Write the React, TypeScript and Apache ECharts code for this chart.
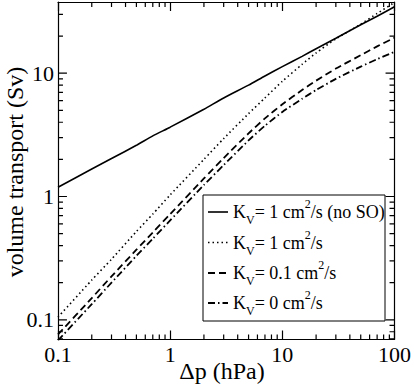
import React, { useEffect, useRef } from "react";
import * as echarts from "echarts";

// Pressure difference Δp (hPa)
const dp = [0.1, 0.2, 0.3, 0.5, 0.7, 1, 2, 3, 5, 7, 10, 15, 20, 30, 50, 70, 100];
// Volume transport (Sv)
const kv1NoSO = [1.19, 1.67, 2.03, 2.6, 3.1, 3.65, 5.1, 6.3, 8.0, 9.5, 11.3, 13.7, 15.8, 19.2, 24.7, 29.0, 34.6];
const kv1 = [0.105, 0.21, 0.31, 0.52, 0.72, 1.03, 2.0, 2.95, 4.7, 6.3, 8.6, 11.8, 14.6, 19.0, 25.0, 30.5, 37.5];
const kv01 = [0.076, 0.15, 0.225, 0.37, 0.51, 0.72, 1.4, 2.05, 3.25, 4.3, 5.6, 7.3, 8.7, 10.9, 14.0, 16.5, 19.4];
const kv0 = [0.068, 0.134, 0.2, 0.33, 0.455, 0.64, 1.24, 1.8, 2.85, 3.75, 4.85, 6.2, 7.3, 9.0, 11.3, 13.0, 14.9];

const xMajor = [0.1, 1, 10, 100];
const xMinor = [0.2, 0.3, 0.4, 0.5, 0.6, 0.7, 0.8, 0.9, 2, 3, 4, 5, 6, 7, 8, 9, 20, 30, 40, 50, 60, 70, 80, 90];
const yMajor = [0.1, 1, 10];
const yMinor = [0.07, 0.08, 0.09, 0.2, 0.3, 0.4, 0.5, 0.6, 0.7, 0.8, 0.9, 2, 3, 4, 5, 6, 7, 8, 9, 20, 30];
const xRange = [0.1, 100];
const yRange = [0.0692, 37.8];

const legendNames = ["K_V= 1 cm²/s (no SO)", "K_V= 1 cm²/s", "K_V= 0.1 cm²/s", "K_V= 0 cm²/s"];
const legendRich = [
  "{k|K}{s|V}{n|= 1 cm}{p|2}{n|/s (no SO)}",
  "{k|K}{s|V}{n|= 1 cm}{p|2}{n|/s}",
  "{k|K}{s|V}{n|= 0.1 cm}{p|2}{n|/s}",
  "{k|K}{s|V}{n|= 0 cm}{p|2}{n|/s}",
];

const FONT = "Liberation Serif";
const lg = (v: number) => Math.log10(v);

export default function App() {
  const ref = useRef<HTMLDivElement>(null);
  useEffect(() => {
    if (!ref.current) return;
    const chart = echarts.init(ref.current, null, { renderer: "svg" });
    const line = { color: "#000", width: 1.2 };
    const labelMap: Record<string, string> = { "-1": "0.1", "0": "1", "1": "10", "2": "100" };
    const fmt = (v: number) => labelMap[String(Math.round(v))] ?? "";
    const xmin = lg(xRange[0]), xmax = lg(xRange[1]);
    const ymin = lg(yRange[0]), ymax = lg(yRange[1]);
    const grid = { left: 58, right: 17.5, top: 2, bottom: 48.5 };
    const plotW = 414 - grid.left - grid.right;
    const plotH = 388 - grid.top - grid.bottom;
    const dxPerPx = (xmax - xmin) / plotW;
    const dyPerPx = (ymax - ymin) / plotH;
    const styles = [
      { type: "solid", width: 1.6 },
      { type: [1.5, 3], width: 1.6 },
      { type: [7, 4], width: 1.8 },
      { type: [7, 3, 1.5, 3], width: 1.8 },
    ];
    const seriesData = [kv1NoSO, kv1, kv01, kv0];
    const legendY = [212, 242.5, 273, 303];
    const dashes: any[] = [null, [1.5, 3], [7, 4], [7, 3, 1.5, 3]];
    const rich = {
      k: { fontSize: 18, fontFamily: FONT, color: "#000", lineHeight: 28, verticalAlign: "middle" },
      n: { fontSize: 18, fontFamily: FONT, color: "#000", lineHeight: 28, verticalAlign: "middle" },
      s: { fontSize: 12, fontFamily: FONT, color: "#000", lineHeight: 12, verticalAlign: "bottom" },
      p: { fontSize: 12, fontFamily: FONT, color: "#000", lineHeight: 14, verticalAlign: "top" },
    };
    const graphics: any[] = [
      { type: "rect", shape: { x: 203, y: 195, width: 182, height: 126 }, style: { fill: "#fff", stroke: "#000", lineWidth: 1 }, z: 10 },
      { type: "text", x: 222, y: 371, style: { text: "Δp (hPa)", fontSize: 24, fontFamily: FONT, fill: "#000", align: "center", verticalAlign: "middle" } },
      { type: "text", x: 15, y: 172, rotation: Math.PI / 2, style: { text: "volume transport (Sv)", fontSize: 24, fontFamily: FONT, fill: "#000", align: "center", verticalAlign: "middle" } },
    ];
    legendY.forEach((y, i) => {
      graphics.push({ type: "line", shape: { x1: 208, y1: y, x2: 228, y2: y }, style: { stroke: "#000", lineWidth: styles[i].width, lineDash: dashes[i] }, z: 11 });
      graphics.push({ type: "text", x: 233, y, style: { text: legendRich[i], rich, verticalAlign: "middle", align: "left" }, z: 11 });
    });
    const tickStyle = { color: "#000", width: 1.2 };
    const xAxes = [
      {
        type: "value", min: xmin, max: xmax, interval: 1, position: "bottom", splitLine: { show: false },
        axisLine: { show: true, onZero: false, lineStyle: line },
        axisTick: { show: true, inside: true, length: 9, lineStyle: tickStyle },
        axisLabel: { show: true, formatter: fmt, fontSize: 22, fontFamily: FONT, color: "#000", margin: 4 },
      },
      {
        type: "value", min: xmin, max: xmax, interval: 1, position: "top", splitLine: { show: false },
        axisLine: { show: true, onZero: false, lineStyle: line },
        axisTick: { show: true, inside: true, length: 9, lineStyle: tickStyle },
        axisLabel: { show: false },
      },
    ];
    const yAxes = [
      {
        type: "value", min: ymin, max: ymax, position: "left", splitLine: { show: false },
        axisLine: { show: true, onZero: false, lineStyle: line },
        axisTick: { show: false },
        axisLabel: { show: true, customValues: yMajor.map(lg), formatter: fmt, fontSize: 22, fontFamily: FONT, color: "#000", margin: 4 },
      },
      {
        type: "value", min: ymin, max: ymax, position: "right", splitLine: { show: false },
        axisLine: { show: true, onZero: false, lineStyle: line },
        axisTick: { show: false },
        axisLabel: { show: false },
      },
    ];
    // minor x ticks and all y ticks as short segments in data space (length in pixels)
    const yt = [...yMajor.map((v) => [v, 9]), ...yMinor.map((v) => [v, 5])];
    const tickData: any[] = [];
    xMinor.forEach((v) => {
      const x = lg(v);
      tickData.push([x, ymin], [x, ymin + 5 * dyPerPx], [x, "-"]);
      tickData.push([x, ymax], [x, ymax - 5 * dyPerPx], [x, "-"]);
    });
    yt.forEach(([v, len]) => {
      const y = lg(v);
      tickData.push([xmin, y], [xmin + len * dxPerPx, y], ["-", y]);
      tickData.push([xmax, y], [xmax - len * dxPerPx, y], ["-", y]);
    });
    chart.setOption({
      animation: false,
      grid: { ...grid, containLabel: false },
      xAxis: xAxes,
      yAxis: yAxes,
      series: [
        ...seriesData.map((vals, i) => ({
          name: legendNames[i],
          type: "line",
          xAxisIndex: 0,
          yAxisIndex: 0,
          symbol: "none",
          smooth: 0.2,
          lineStyle: { color: "#000", width: styles[i].width, type: styles[i].type },
          data: dp.map((x, j) => [lg(x), lg(vals[j])]),
        })),
        {
          name: "ticks",
          type: "line",
          xAxisIndex: 0,
          yAxisIndex: 0,
          symbol: "none",
          silent: true,
          clip: false,
          connectNulls: false,
          smooth: false,
          z: 5,
          lineStyle: { color: "#000", width: 1.2, type: "solid" },
          data: tickData,
        },
      ],
      graphic: graphics,
    });
    return () => chart.dispose();
  }, []);
  return <div ref={ref} style={{ position: "absolute", left: 0, top: 0, width: 414, height: 388 }} />;
}
